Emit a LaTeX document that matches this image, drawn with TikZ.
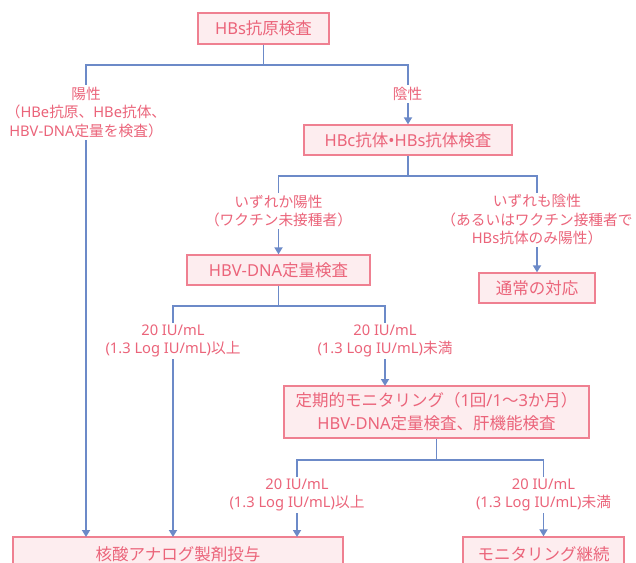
\documentclass[tikz,border=0pt]{standalone}
\usepackage{fontspec}
\setmainfont{Noto Sans CJK JP}
\newfontfamily\lf{Noto Sans}
\usetikzlibrary{arrows.meta}
\definecolor{boxfill}{RGB}{253,237,239}
\definecolor{boxdraw}{RGB}{239,128,145}
\definecolor{txt}{RGB}{235,100,122}
\definecolor{lineblue}{RGB}{108,138,200}
\begin{document}
\begin{tikzpicture}[x=1pt,y=-1pt,
  box/.style={draw=boxdraw,fill=boxfill,line width=1.3pt,text=txt,font=\fontsize{16.5}{23}\selectfont,align=center,inner sep=0pt},
  lbl/.style={fill=white,text=txt,font=\fontsize{14.7}{18.5}\selectfont,align=center,inner sep=2pt},
  conn/.style={draw=lineblue,line width=1.7pt},
  arr/.style={conn,-{Triangle[width=8pt,length=7pt]}}]
\useasboundingbox (0,0) rectangle (636,562);
\clip (0,0) rectangle (636,562);
% boxes
\node[box,minimum width=131pt,minimum height=31pt] (n1) at (263.5,28.5) {{\lf HBs}抗原検査};
\node[box,minimum width=208pt,minimum height=30pt] (n2) at (408,140) {{\lf HBc}抗体{\lf •HBs}抗体検査};
\node[box,minimum width=183pt,minimum height=30pt] (n3) at (278.5,270) {{\lf HBV-DNA}定量検査};
\node[box,minimum width=116pt,minimum height=30pt] (n4) at (537,288) {通常の対応};
\node[box,minimum width=305pt,minimum height=52pt] (n5) at (436.5,412) {定期的モニタリング（{\lf 1}回{\lf /1}～{\lf 3}か月）\\{\lf HBV-DNA}定量検査、肝機能検査};
\node[box,minimum width=330pt,minimum height=34pt] (n6) at (178,554) {核酸アナログ製剤投与};
\node[box,minimum width=161pt,minimum height=34pt] (n7) at (543.5,554) {モニタリング継続};
% junctions and free ends
\coordinate (j1) at (263.5,65);
\coordinate (j2) at (408,176);
\coordinate (j3) at (278.5,306);
\coordinate (j4) at (436.5,460);
\coordinate (e1) at (86,537);
\coordinate (e2) at (173,537);
\coordinate (e3) at (385,386);
\coordinate (e4) at (297,537);
% connectors
\draw[conn] (n1.south) -- (j1);
\draw[arr] (j1) -| (e1);
\draw[arr] (j1) -| (n2.north);
\draw[conn] (n2.south) -- (j2);
\draw[arr] (j2) -| (n3.north);
\draw[arr] (j2) -| (n4.north);
\draw[conn] (n3.south) -- (j3);
\draw[arr] (j3) -| (e2);
\draw[arr] (j3) -| (e3);
\draw[conn] (n5.south) -- (j4);
\draw[arr] (j4) -| (e4);
\draw[arr] (j4) -| (n7.north);
% labels
\node[lbl] (l1) at (86,112.5) {陽性\\（{\lf HBe}抗原、{\lf HBe}抗体、\\{\lf HBV-DNA}定量を検査）};
\node[lbl] (l2) at (407.5,94) {陰性};
\node[lbl] (l3) at (278.5,211) {いずれか陽性\\（ワクチン未接種者）};
\node[lbl] (l4) at (537,220) {いずれも陰性\\（あるいはワクチン接種者で\\{\lf HBs}抗体のみ陽性）};
\node[lbl] (l5) at (173,341) {{\lf 20 IU/mL}\\{\lf (1.3 Log IU/mL)}以上};
\node[lbl] (l6) at (385,341) {{\lf 20 IU/mL}\\{\lf (1.3 Log IU/mL)}未満};
\node[lbl] (l7) at (297,495) {{\lf 20 IU/mL}\\{\lf (1.3 Log IU/mL)}以上};
\node[lbl] (l8) at (543.5,495) {{\lf 20 IU/mL}\\{\lf (1.3 Log IU/mL)}未満};
\end{tikzpicture}
\end{document}
